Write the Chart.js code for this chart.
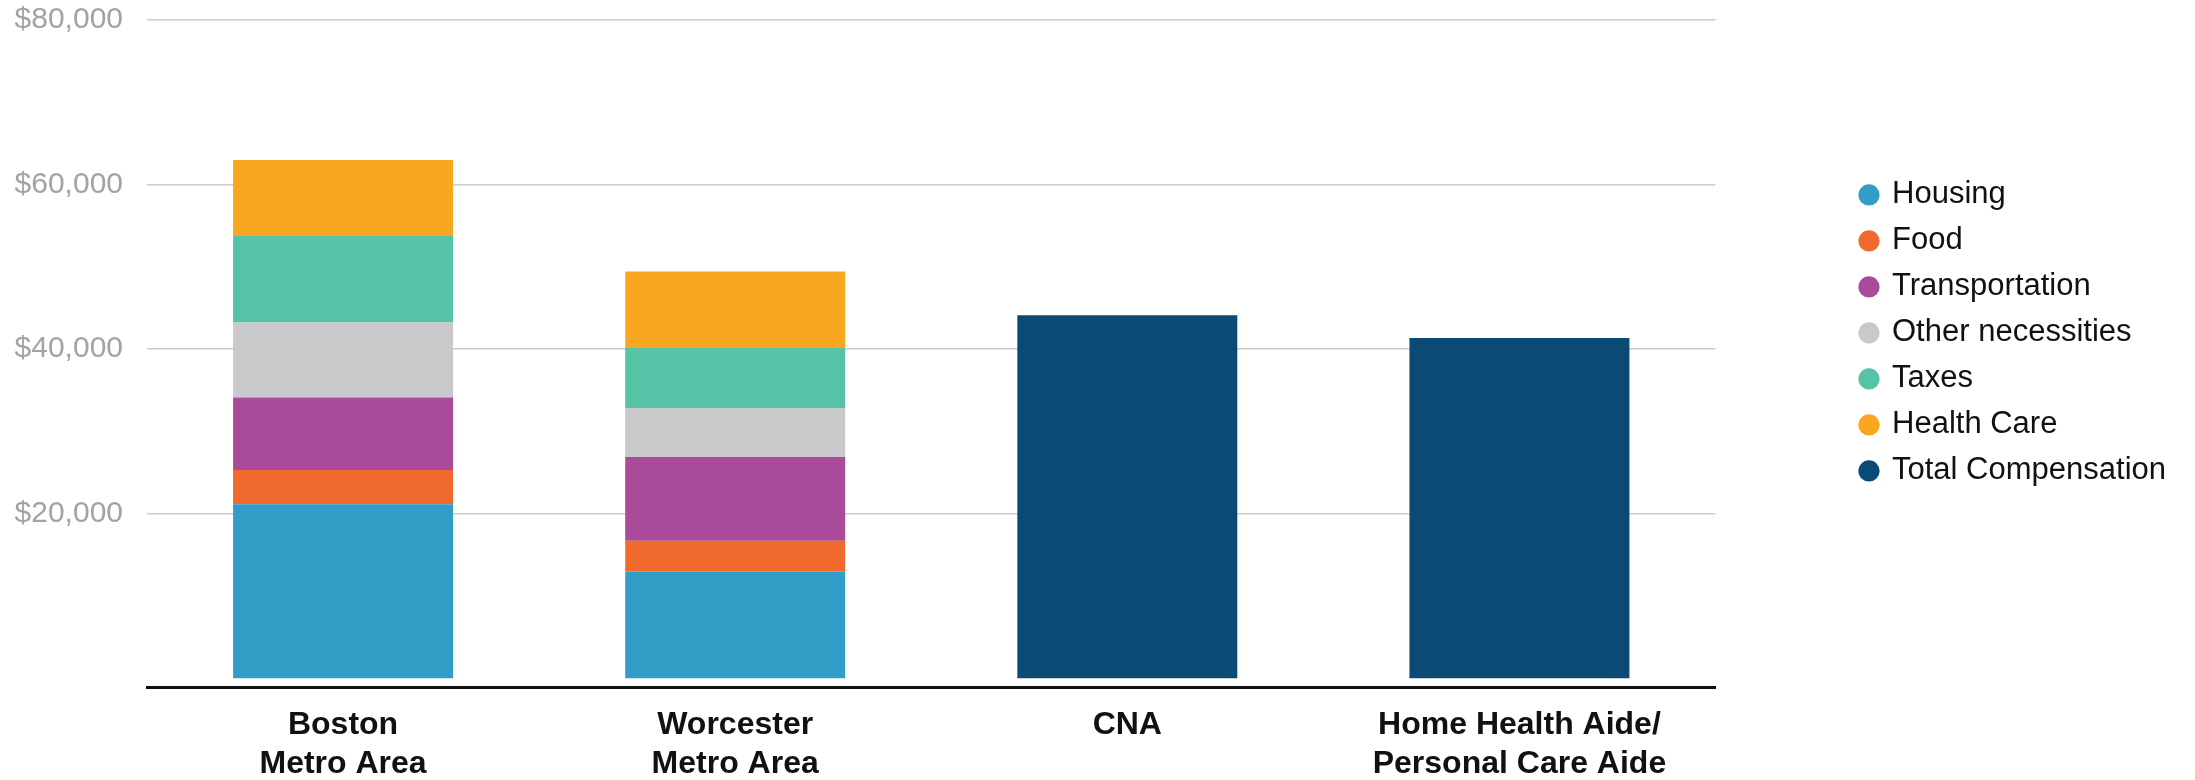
<!DOCTYPE html>
<html>
<head>
<meta charset="utf-8">
<script src="https://cdn.jsdelivr.net/npm/chart.js@4"></script>
<style>
  html, body { margin: 0; padding: 0; background: #fff; }
  #wrap { width: 2195px; height: 780px; position: relative; }
</style>
</head>
<body>
<div id="wrap"><canvas id="cost-chart"></canvas></div>
<script>
// Categories (multi-line x labels)
const categories = [
    ['Boston', 'Metro Area'],
    ['Worcester', 'Metro Area'],
    'CNA',
    ['Home Health Aide/', 'Personal Care Aide']
];

// Living cost pieces (Boston, Worcester), compensation for the two jobs
const housing = [21170, 12980, null, null];
const food = [4160, 3730, null, null];
const transportation = [8800, 10180, null, null];
const otherNecessities = [9100, 5960, null, null];
const taxes = [10530, 7370, null, null];
const healthCare = [9230, 9210, null, null];
const totalCompensation = [null, null, 44110, 41370];

const yTicks = [20000, 40000, 60000, 80000];

const seriesColors = {
    'Housing': '#329ec7',
    'Food': '#f16a2d',
    'Transportation': '#a94b9a',
    'Other necessities': '#c9c9cb',
    'Taxes': '#56c2a6',
    'Health Care': '#f9a621',
    'Total Compensation': '#0a4a75'
};

function makeDataset(label, data) {
    return {
        label: label,
        data: data,
        backgroundColor: seriesColors[label],
        borderWidth: 0
    };
}

Chart.defaults.font.family = "'Liberation Sans', Arial, sans-serif";

const ctx = document.getElementById('cost-chart').getContext('2d');
new Chart(ctx, {
    type: 'bar',
    data: {
        labels: categories,
        datasets: [
            makeDataset('Housing', housing),
            makeDataset('Food', food),
            makeDataset('Transportation', transportation),
            makeDataset('Other necessities', otherNecessities),
            makeDataset('Taxes', taxes),
            makeDataset('Health Care', healthCare),
            makeDataset('Total Compensation', totalCompensation)
        ]
    },
    options: {
        responsive: true,
        maintainAspectRatio: false,
        animation: false,
        categoryPercentage: 1,
        barPercentage: 0.561,
        layout: {
            padding: { top: 0, right: 19, bottom: 0, left: 0 }
        },
        plugins: {
            tooltip: { enabled: false },
            legend: {
                position: 'right',
                align: 'start',
                title: {
                    display: true,
                    text: '',
                    font: { size: 12 },
                    padding: { top: 150, bottom: 0 }
                },
                labels: {
                    usePointStyle: true,
                    pointStyle: 'circle',
                    boxWidth: 15,
                    boxHeight: 15,
                    padding: 15,
                    color: '#111',
                    font: { size: 31 }
                }
            }
        },
        scales: {
            x: {
                stacked: true,
                grid: { display: false, drawTicks: false },
                border: { display: true, color: '#111', width: 3 },
                ticks: {
                    color: '#111',
                    padding: 19,
                    maxRotation: 0,
                    autoSkip: false,
                    font: { size: 32, weight: 'bold', lineHeight: 1.22 }
                },
                afterFit: axis => { axis.height = 93; }
            },
            y: {
                stacked: true,
                min: -1050,
                max: 80000,
                afterBuildTicks: axis => {
                    axis.ticks = yTicks.map(v => ({ value: v }));
                },
                grid: { color: '#cccccc', lineWidth: 1.5, drawTicks: false },
                border: { display: false },
                ticks: {
                    color: '#a3a3a6',
                    padding: 24,
                    font: { size: 30 },
                    callback: value => '$' + value.toLocaleString('en-US')
                },
                afterFit: axis => {
                    axis.width = 147;
                    axis.paddingTop = 20; // top tick sits 20px below the canvas edge
                }
            },
            // empty spacer between plot and legend
            spacer: {
                position: 'right',
                display: true,
                grid: { display: false },
                border: { display: false },
                ticks: { display: false },
                afterFit: axis => { axis.width = 131; }
            }
        }
    }
});
</script>
</body>
</html>
